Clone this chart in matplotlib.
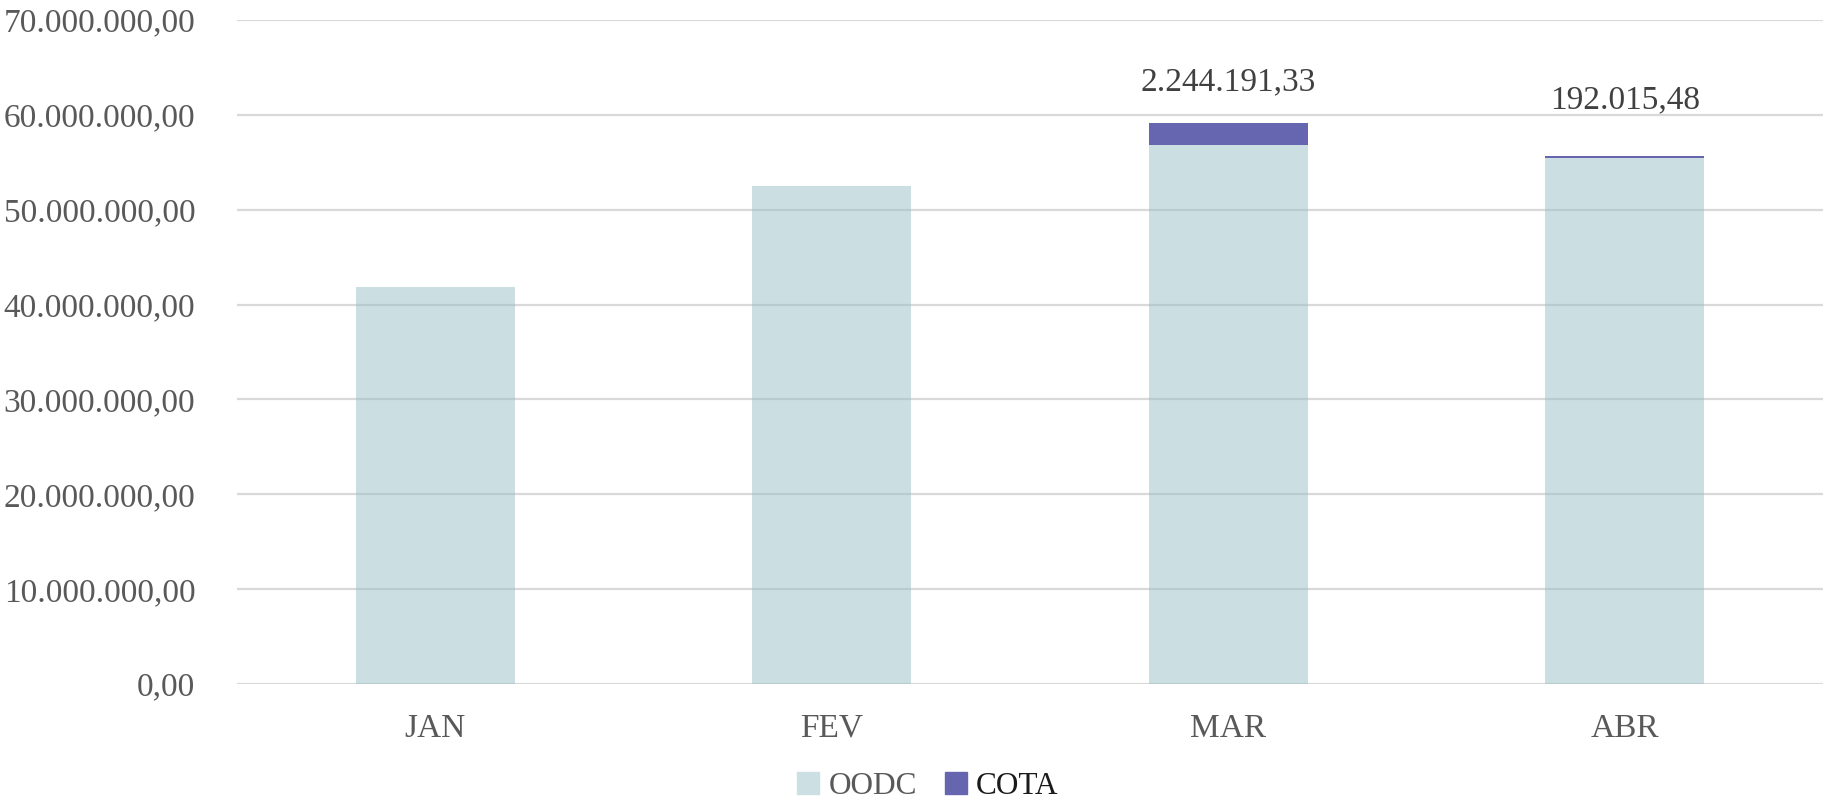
import numpy as np
import matplotlib
matplotlib.use("Agg")
import matplotlib.pyplot as plt
from matplotlib.ticker import FuncFormatter
import matplotlib.patches as mpatches

months = ["JAN", "FEV", "MAR", "ABR"]
oodc = [41_810_000, 52_490_000, 56_850_000, 55_480_000]
cota = [0, 0, 2_244_191.33, 192_015.48]
cota_labels = ["", "", "2.244.191,33", "192.015,48"]
label_offsets = [0, 0, 30, 40]   # points above bar top (label centre)

OODC_C = "#99BFC5"   # drawn at alpha .5 -> #CCDFE2 on white
COTA_C = "#6666B0"
GRID = "#d9d9d9"
TXT = "#595959"

plt.rcParams["font.family"] = ["Liberation Serif", "DejaVu Serif"]


def br_fmt(v, _pos=None):
    s = f"{v:,.2f}"
    return s.replace(",", "X").replace(".", ",").replace("X", ".")


fig = plt.figure(figsize=(18.23, 7.99), dpi=100)
ax = fig.add_axes([237 / 1823, 1 - 684 / 799, (1823 - 237) / 1823, (684 - 20) / 799])

x = np.arange(len(months))
ax.bar(x, oodc, width=0.4, color=OODC_C, alpha=0.5, zorder=3)
ax.bar(x, cota, width=0.4, bottom=oodc, color=COTA_C, zorder=3)

for xi, o, c, lab, off in zip(x, oodc, cota, cota_labels, label_offsets):
    if lab:
        ax.annotate(lab, (xi, o + c), xytext=(0, off), textcoords="offset points",
                    ha="center", va="center", fontsize=24, color="#404040")

ax.set_xlim(-0.5, 3.5)
ax.set_ylim(0, 70_000_000)
ax.set_yticks(np.arange(0, 70_000_001, 10_000_000))
ax.yaxis.set_major_formatter(FuncFormatter(br_fmt))
ax.set_xticks(x)
ax.set_xticklabels(months)
ax.tick_params(axis="both", length=0, labelsize=24, labelcolor=TXT)
ax.tick_params(axis="y", pad=30)
ax.tick_params(axis="x", pad=21)
ax.yaxis.grid(True, color=GRID, lw=1.6, zorder=0)
ax.set_axisbelow(True)
for s in ax.spines.values():
    s.set_visible(False)

handles = [mpatches.Patch(color="#CCDFE2", label="OODC"),
           mpatches.Patch(color=COTA_C, label="COTA")]
leg = fig.legend(handles=handles, loc="center", bbox_to_anchor=(0.509, 0.016),
                 ncol=2, frameon=False, fontsize=22.5, handlelength=0.7, handleheight=0.7,
                 handletextpad=0.3, columnspacing=0.9, borderpad=0)
leg.get_texts()[0].set_color(TXT)
leg.get_texts()[1].set_color("#1a1a1a")

fig.savefig("out.png", dpi=100)
